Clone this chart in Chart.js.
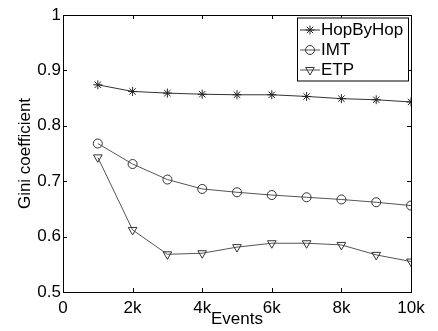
<!DOCTYPE html>
<html>
<head>
<meta charset="utf-8">
<script src="https://cdn.jsdelivr.net/npm/chart.js@4"></script>
<style>
  html, body { margin: 0; padding: 0; background: #fff; }
  canvas { display: block; }
</style>
</head>
<body>
<canvas id="grafico" width="438" height="331"></canvas>
<script>
// Dados
const events = [1000, 2000, 3000, 4000, 5000, 6000, 7000, 8000, 9000, 10000];
const hopByHop = [0.874, 0.862, 0.859, 0.857, 0.856, 0.856, 0.853, 0.849, 0.847, 0.843];
const imt = [0.768, 0.731, 0.703, 0.686, 0.680, 0.675, 0.671, 0.667, 0.662, 0.656];
const etp = [0.743, 0.612, 0.568, 0.570, 0.581, 0.588, 0.588, 0.585, 0.567, 0.555];
const seriesNames = ['HopByHop', 'IMT', 'ETP'];

const fonte = '"Liberation Sans", Arial, Helvetica, sans-serif';

function pares(valores) {
  return events.map((x, i) => ({ x: x, y: valores[i] }));
}

const estilos = [
  { pointStyle: 'star', rotation: 0, radius: 4.5, line: '#333', mark: '#222' },
  { pointStyle: 'circle', rotation: 0, radius: 4.5, line: '#555', mark: '#333' },
  { pointStyle: 'triangle', rotation: 180, radius: 5, line: '#555', mark: '#333' }
];

const datasets = [hopByHop, imt, etp].map((valores, i) => ({
  label: seriesNames[i],
  data: pares(valores),
  borderColor: estilos[i].line,
  borderWidth: 1,
  tension: 0,
  pointStyle: estilos[i].pointStyle,
  rotation: estilos[i].rotation,
  pointRadius: estilos[i].radius,
  pointBorderColor: estilos[i].mark,
  pointBackgroundColor: 'rgba(0,0,0,0)',
  pointBorderWidth: 1
}));

// Moldura e ticks internos (estilo MATLAB)
const molduraPlugin = {
  id: 'moldura',
  afterDraw(chart) {
    const { ctx, chartArea: a, scales } = chart;
    ctx.save();
    ctx.strokeStyle = '#000';
    ctx.lineWidth = 1;
    ctx.strokeRect(a.left + 0.5, a.top + 0.5, a.right - a.left, a.bottom - a.top);
    const len = 4;
    ctx.beginPath();
    scales.x.ticks.forEach(t => {
      const px = Math.round(scales.x.getPixelForValue(t.value)) + 0.5;
      ctx.moveTo(px, a.bottom); ctx.lineTo(px, a.bottom - len);
      ctx.moveTo(px, a.top); ctx.lineTo(px, a.top + len);
    });
    scales.y.ticks.forEach(t => {
      const py = Math.round(scales.y.getPixelForValue(t.value)) + 0.5;
      ctx.moveTo(a.left, py); ctx.lineTo(a.left + len, py);
      ctx.moveTo(a.right, py); ctx.lineTo(a.right - len, py);
    });
    ctx.stroke();
    ctx.restore();
  }
};

// Legenda dentro da área do gráfico
const legendaPlugin = {
  id: 'legendaInterna',
  afterDraw(chart) {
    const { ctx } = chart;
    const x0 = 297, y0 = 17.5, w = 111, h = 63;
    ctx.save();
    ctx.fillStyle = '#fff';
    ctx.fillRect(x0, y0, w, h);
    ctx.strokeStyle = '#000';
    ctx.lineWidth = 1;
    ctx.strokeRect(x0 + 0.5, y0 + 0.5, w, h);
    ctx.font = '17px ' + fonte;
    ctx.textBaseline = 'middle';
    chart.data.datasets.forEach((ds, i) => {
      const cy = y0 + 12 + i * 20;
      ctx.strokeStyle = ds.borderColor;
      ctx.beginPath();
      ctx.moveTo(x0 + 3, cy + 0.5);
      ctx.lineTo(x0 + 23, cy + 0.5);
      ctx.stroke();
      ctx.strokeStyle = ds.pointBorderColor;
      ctx.fillStyle = ds.pointBackgroundColor;
      Chart.helpers.drawPoint(ctx, {
        pointStyle: ds.pointStyle,
        rotation: ds.rotation,
        radius: ds.pointRadius,
        borderWidth: 1
      }, x0 + 13, cy + 0.5);
      ctx.fillStyle = '#000';
      ctx.fillText(ds.label, x0 + 24, cy + 1);
    });
    ctx.restore();
  }
};

new Chart(document.getElementById('grafico'), {
  type: 'line',
  data: { datasets: datasets },
  options: {
    responsive: false,
    animation: false,
    layout: { padding: { left: 0, top: 15, right: 27, bottom: 0 } },
    plugins: {
      legend: { display: false },
      tooltip: { enabled: false }
    },
    scales: {
      x: {
        type: 'linear',
        min: 0,
        max: 10000,
        afterFit(scale) { scale.height = 39; },
        grid: { display: false, drawTicks: false },
        border: { display: false },
        ticks: {
          stepSize: 2000,
          padding: 6,
          color: '#000',
          font: { family: fonte, size: 17 },
          maxRotation: 0,
          callback: v => v === 0 ? '0' : (v / 1000) + 'k'
        },
        title: {
          display: true,
          text: 'Events',
          color: '#000',
          font: { family: fonte, size: 17 },
          padding: { top: 0, bottom: 1 }
        }
      },
      y: {
        min: 0.5,
        max: 1,
        afterFit(scale) { scale.width = 63; },
        grid: { display: false, drawTicks: false },
        border: { display: false },
        ticks: {
          stepSize: 0.1,
          padding: 2,
          color: '#000',
          font: { family: fonte, size: 17 },
          callback: v => Number(v.toFixed(1)).toString()
        },
        title: {
          display: true,
          text: 'Gini coefficient',
          color: '#000',
          font: { family: fonte, size: 17 },
          padding: { top: 15, bottom: 0 }
        }
      }
    }
  },
  plugins: [molduraPlugin, legendaPlugin]
});
</script>
</body>
</html>
